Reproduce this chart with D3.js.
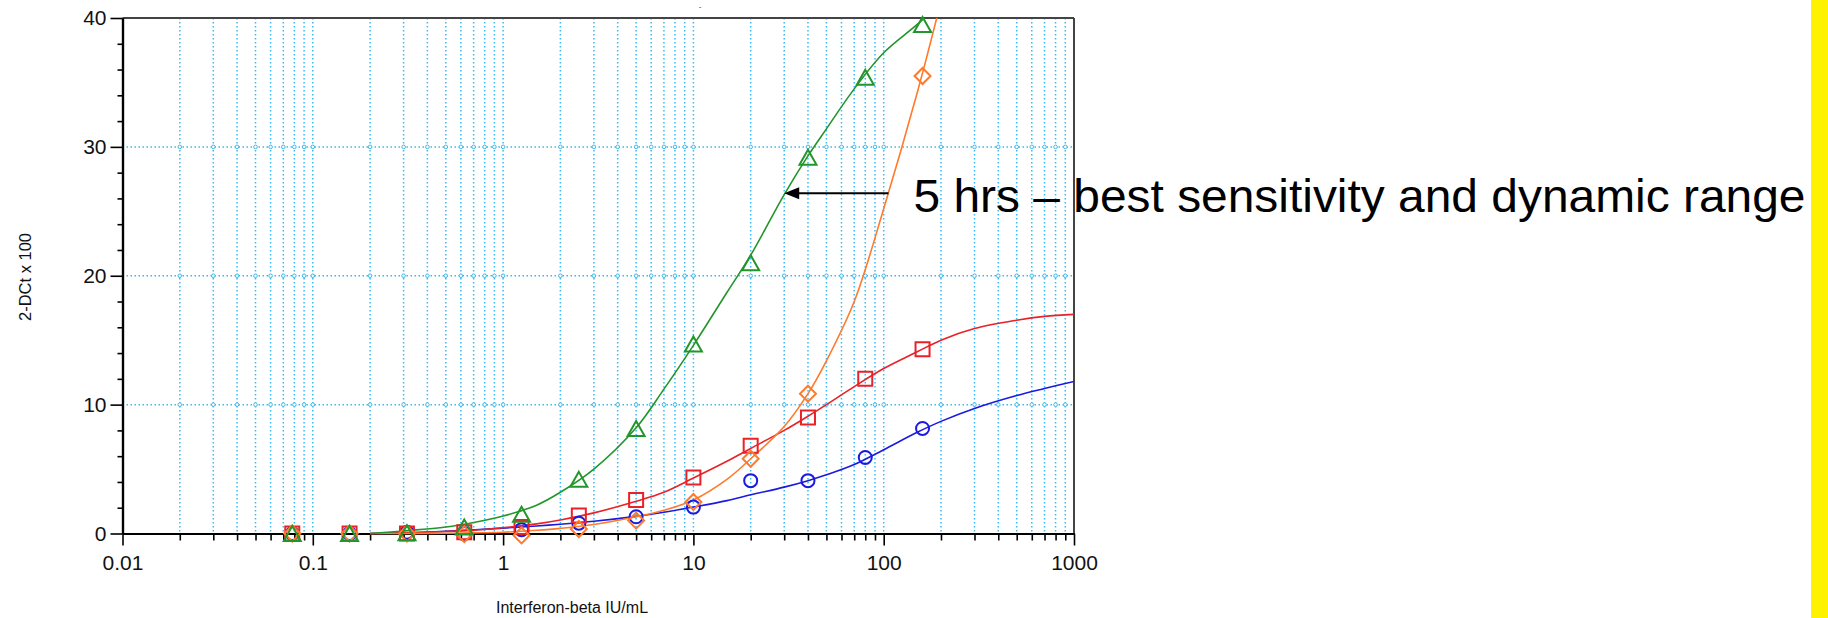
<!DOCTYPE html>
<html>
<head>
<meta charset="utf-8">
<script src="https://cdn.jsdelivr.net/npm/d3@7"></script>
<style>
body{margin:0;background:#fff}
svg{display:block;font-family:"Liberation Sans",Arial,sans-serif}
</style>
</head>
<body>
<svg id="chart" width="1828" height="618"></svg>
<script>
// dilution series (IU/mL) and measured points
let doses=[0.078,0.156,0.3125,0.625,1.25,2.5,5,10,20,40,80,160]
let blueVals=[0,0,0.1,0,0.3,0.8,1.3,2.05,4.1,4.1,5.9,8.15]
let redVals=[0,0,0,0.1,0.5,1.4,2.6,4.35,6.8,9.0,12.0,14.3]
let orangeVals=[0,0,0,-0.05,-0.15,0.35,1.0,2.45,5.8,10.85,null,35.5]
let greenVals=[0,0,0.05,0.5,1.5,4.2,8.15,14.7,21.0,29.2,35.4,39.5]

// fitted curves
let fitX=[0.2,0.3,0.5,0.7,1,1.5,2,3,5,7,10,15,20,30,40,50,70,100,150,200,300,500,700,1000]
let blueFit=[0,0.05,0.18,0.28,0.42,0.58,0.72,0.95,1.33,1.65,2.05,2.55,3.0,3.6,4.1,4.55,5.35,6.5,7.85,8.7,9.7,10.7,11.25,11.8]
let redFit=[0,0.05,0.15,0.25,0.45,0.75,1.05,1.6,2.5,3.2,4.3,5.6,6.6,8.0,9.1,10.0,11.4,12.8,14.1,15.0,15.9,16.55,16.85,17.0]
let orangeFit=[0,0,0.02,0.05,0.1,0.25,0.4,0.7,1.3,1.8,2.6,4.2,5.8,8.3,10.85,13.4,18.0,25.2,34.2,41.3,null,null,null,null]
let greenFit=[0,0.2,0.5,0.85,1.35,2.2,3.2,5.0,8.2,11.2,14.6,18.7,21.6,26.3,29.3,31.4,34.5,37.3,39.5,41.2,null,null,null,null]

let xTicks=[0.01,0.1,1,10,100,1000]
let yTicks=[0,10,20,30,40]

let note={text:'5 hrs \u2013 best sensitivity and dynamic range',tipX:30,tipY:26.4,tailX:106}

let series=[
  {vals:blueVals,fit:blueFit,color:'#1a1ae0',shape:'circle'},
  {vals:redVals,fit:redFit,color:'#e82228',shape:'square'},
  {vals:orangeVals,fit:orangeFit,color:'#ff7a2a',shape:'diamond'},
  {vals:greenVals,fit:greenFit,color:'#22962a',shape:'triangle'}
]

let svg=d3.select('#chart')
let pLeft=122.5,pRight=1074,pTop=18,pBottom=533.5
let x=d3.scaleLog().domain([0.01,1000]).range([pLeft,pRight])
let y=d3.scaleLinear().domain([0,40]).range([pBottom,pTop])
let gridColor='#3ab9ee'

let minorX=[]
xTicks.slice(0,-1).forEach(t=>{
  for(let k=2;k<10;k++) minorX.push(+(t*k).toPrecision(3))
})
let gridX=minorX.concat(xTicks.slice(1,-1))
let minorY=d3.range(2,40,2).filter(v=>v%10!=0)

// grid
svg.append('g').selectAll('line').data(gridX).join('line')
  .attr('x1',d=>x(d)).attr('x2',d=>x(d))
  .attr('y1',pTop).attr('y2',pBottom)
  .attr('stroke',gridColor).attr('stroke-width',1.5).attr('stroke-dasharray','1.5,2.5')
svg.append('g').selectAll('line').data(yTicks.slice(1,-1)).join('line')
  .attr('x1',pLeft).attr('x2',pRight)
  .attr('y1',d=>y(d)).attr('y2',d=>y(d))
  .attr('stroke',gridColor).attr('stroke-width',1.5).attr('stroke-dasharray','1.5,2.5')
let knots=[]
yTicks.slice(1,-1).forEach(v=>gridX.forEach(g=>knots.push([g,v])))
svg.append('g').selectAll('circle').data(knots).join('circle')
  .attr('cx',d=>x(d[0])).attr('cy',d=>y(d[1])).attr('r',1.8)
  .attr('fill','#fff').attr('stroke',gridColor).attr('stroke-width',1)

// frame top/right
svg.append('line').attr('x1',pLeft).attr('x2',pRight).attr('y1',pTop).attr('y2',pTop)
  .attr('stroke','#444').attr('stroke-width',2)
svg.append('line').attr('x1',pRight).attr('x2',pRight).attr('y1',pTop).attr('y2',pBottom)
  .attr('stroke','#444').attr('stroke-width',2)

// axes
let styleAxis=(g)=>{
  g.attr('font-size',21).attr('font-family','"Liberation Sans",Arial,sans-serif')
  g.selectAll('.domain').attr('stroke','#000').attr('stroke-width',2.2)
  g.selectAll('.tick line').attr('stroke','#000').attr('stroke-width',1.6)
  g.selectAll('.tick text').attr('fill','#111')
}
svg.append('g').attr('transform',`translate(0,${pBottom})`)
  .call(d3.axisBottom(x).tickValues(minorX).tickSize(7).tickSizeOuter(0).tickFormat(''))
  .call(styleAxis)
svg.append('g').attr('transform',`translate(0,${pBottom})`)
  .call(d3.axisBottom(x).tickValues(xTicks).tickSize(12).tickSizeOuter(0).tickPadding(10).tickFormat(d=>String(d)))
  .call(styleAxis)
svg.append('g').attr('transform',`translate(${pLeft},0)`)
  .call(d3.axisLeft(y).tickValues(minorY).tickSize(5).tickSizeOuter(0).tickFormat(''))
  .call(styleAxis)
svg.append('g').attr('transform',`translate(${pLeft},0)`)
  .call(d3.axisLeft(y).tickValues(yTicks).tickSize(12).tickSizeOuter(0).tickPadding(4))
  .call(styleAxis)

// axis titles
svg.append('text').attr('x',572).attr('y',613).attr('text-anchor','middle')
  .attr('font-size',16).attr('fill','#111').text('Interferon-beta IU/mL')
svg.append('text').attr('transform','translate(31,277) rotate(-90)').attr('text-anchor','middle')
  .attr('font-size',16.5).attr('fill','#111').text('2-DCt x 100')
svg.append('text').attr('x',700).attr('y',9).attr('text-anchor','middle')
  .attr('font-size',8).attr('fill','#333').text('-')

// curves
svg.append('clipPath').attr('id','plotclip').append('rect')
  .attr('x',pLeft).attr('y',pTop).attr('width',pRight-pLeft).attr('height',pBottom-pTop+2)
let line=d3.line()
  .defined(d=>d[1]!=null)
  .x(d=>x(d[0])).y(d=>y(d[1]))
  .curve(d3.curveCatmullRom.alpha(0.5))
let curves=svg.append('g').attr('clip-path','url(#plotclip)')
series.forEach(s=>{
  curves.append('path')
    .attr('d',line(fitX.map((v,i)=>[v,s.fit[i]])))
    .attr('fill','none').attr('stroke',s.color).attr('stroke-width',1.6)
})

// markers
let shapes={
  square:'M-7,-7h14v14h-14Z',
  diamond:'M0,-8L8,0L0,8L-8,0Z',
  triangle:'M0,-7.5L8.5,7.5L-8.5,7.5Z'
}
series.forEach(s=>{
  let pts=doses.map((d,i)=>[d,s.vals[i]]).filter(p=>p[1]!=null)
  let g=svg.append('g')
  if(s.shape=='circle'){
    g.selectAll('circle').data(pts).join('circle')
      .attr('cx',d=>x(d[0])).attr('cy',d=>y(d[1])).attr('r',6.5)
      .attr('fill','none').attr('stroke',s.color).attr('stroke-width',2)
  }else{
    g.selectAll('path').data(pts).join('path')
      .attr('transform',d=>`translate(${x(d[0])},${y(d[1])})`)
      .attr('d',shapes[s.shape])
      .attr('fill','none').attr('stroke',s.color).attr('stroke-width',2)
  }
})

// annotation
let ay=y(note.tipY), tip=x(note.tipX), tail=x(note.tailX)
svg.append('line').attr('x1',tail).attr('x2',tip+12).attr('y1',ay).attr('y2',ay)
  .attr('stroke','#000').attr('stroke-width',2)
svg.append('path').attr('d',`M${tip},${ay}L${tip+15},${ay-6}L${tip+15},${ay+6}Z`).attr('fill','#000')
svg.append('text').attr('x',tail+25).attr('y',212)
  .attr('font-size',47).attr('fill','#000')
  .attr('textLength',892).attr('lengthAdjust','spacingAndGlyphs')
  .text(note.text)

// yellow edge bar
svg.append('rect').attr('x',1811).attr('y',0).attr('width',17).attr('height',618).attr('fill','#fff200')
</script>
</body>
</html>
